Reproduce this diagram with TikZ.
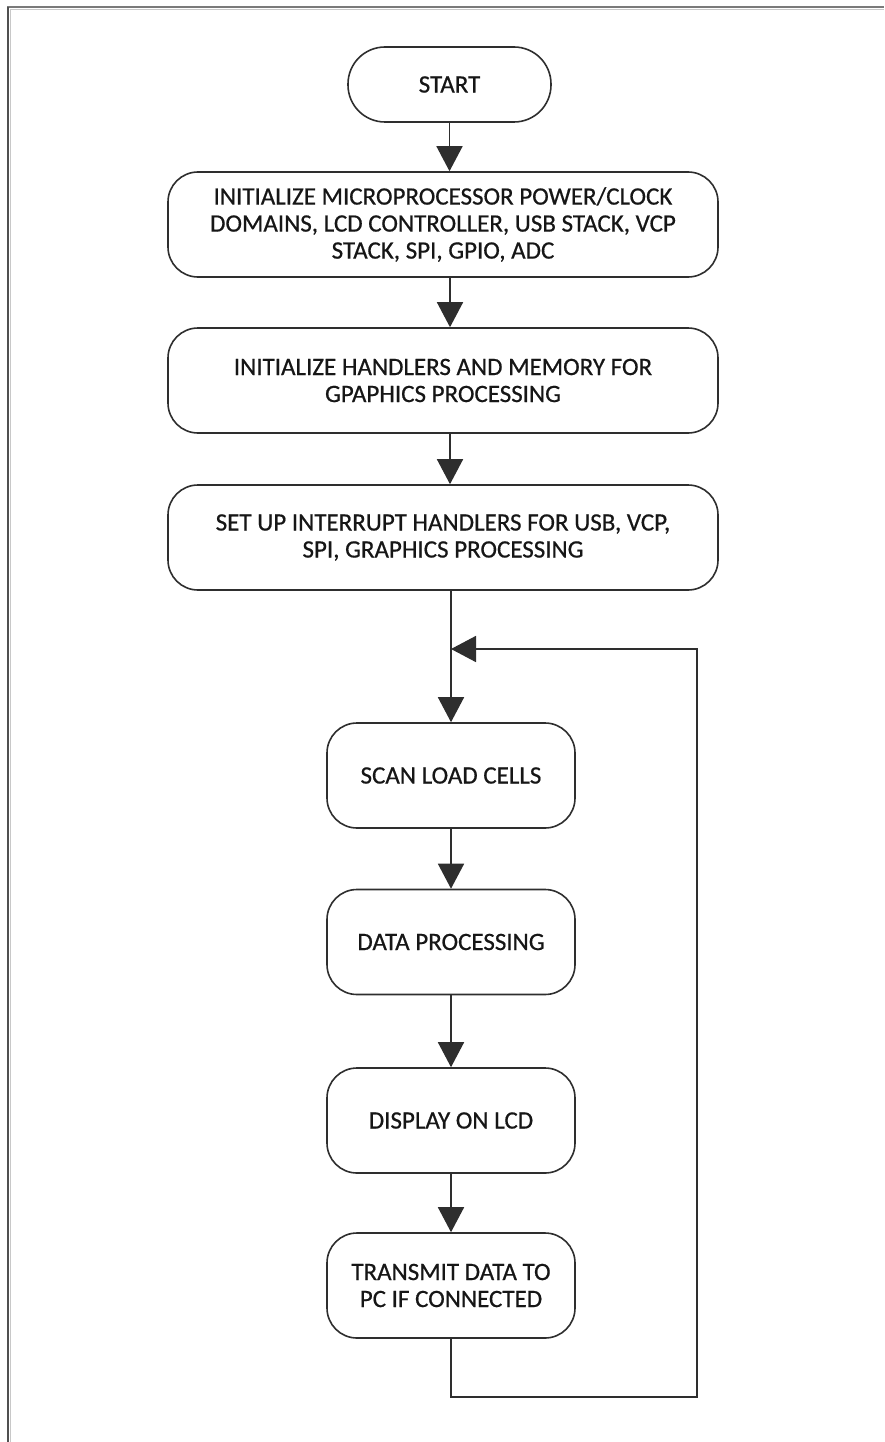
\documentclass[tikz,border=0pt]{standalone}
\usepackage{fontspec}
\setmainfont{Carlito}
\newfontfamily\boxfont{Carlito}[FakeBold=0.6]
\usetikzlibrary{arrows.meta}
\definecolor{linec}{HTML}{2E2E2E}
\definecolor{txtc}{HTML}{161616}
\definecolor{frametop}{HTML}{7A7A7A}
\definecolor{frameleft}{HTML}{505050}
\definecolor{framelight}{HTML}{C8C8C8}
\begin{document}
\begin{tikzpicture}[x=1pt,y=-1pt,
  box/.style={draw=linec, line width=1.6pt, rounded corners=30pt, align=center,
    font=\boxfont\fontsize{25}{27}\selectfont, text=txtc, inner sep=0pt},
  bigbox/.style={box, minimum width=550pt, minimum height=105pt},
  smallbox/.style={box, minimum width=248pt, minimum height=105pt},
  arr/.style={draw=linec, line width=1.6pt, -{Triangle[length=25pt,width=26pt]}},
  wire/.style={draw=linec, line width=1.6pt}]
\useasboundingbox (0,0) rectangle (884,1442);
\fill[white] (0,0) rectangle (884,1442);
% frame
\draw[framelight, line width=1.5pt] (10,9.5) -- (884,9.5);
\draw[framelight, line width=1.5pt] (10.5,9) -- (10.5,1442);
\draw[frametop, line width=2.5pt] (7,7) -- (884,7);
\draw[frameleft, line width=2.5pt] (8,7) -- (8,1442);
% nodes
\node[box, minimum width=203pt, minimum height=75pt, rounded corners=37pt] (start) at (449.5,84.5) {START};
\node[bigbox] (b1) at (443,224.5) {INITIALIZE MICROPROCESSOR POWER/CLOCK\\DOMAINS, LCD CONTROLLER, USB STACK, VCP\\STACK, SPI, GPIO, ADC};
\node[bigbox] (b2) at (443,380.5) {INITIALIZE HANDLERS AND MEMORY FOR\\GPAPHICS PROCESSING};
\node[bigbox] (b3) at (443,537.5) {SET UP INTERRUPT HANDLERS FOR USB, VCP,\\SPI, GRAPHICS PROCESSING};
\node[smallbox] (scan) at (451,775.5) {SCAN LOAD CELLS};
\node[smallbox] (data) at (451,942) {DATA PROCESSING};
\node[smallbox] (disp) at (451,1120.5) {DISPLAY ON LCD};
\node[smallbox] (tx) at (451,1285.5) {TRANSMIT DATA TO\\PC IF CONNECTED};
\coordinate (spine) at (450,0);
\coordinate (join) at (451,649);
\coordinate (loopR) at (697,1397);
% connectors
\draw[arr] (start.south) -- (start.south |- b1.north);
\draw[arr] (b1.south -| spine) -- (b2.north -| spine);
\draw[arr] (b2.south -| spine) -- (b3.north -| spine);
\draw[arr] (b3.south -| join) -- (scan.north);
\draw[arr] (scan) -- (data);
\draw[arr] (data) -- (disp);
\draw[arr] (disp) -- (tx);
\draw[arr] (tx.south) |- (loopR) |- (join);
\end{tikzpicture}
\end{document}
